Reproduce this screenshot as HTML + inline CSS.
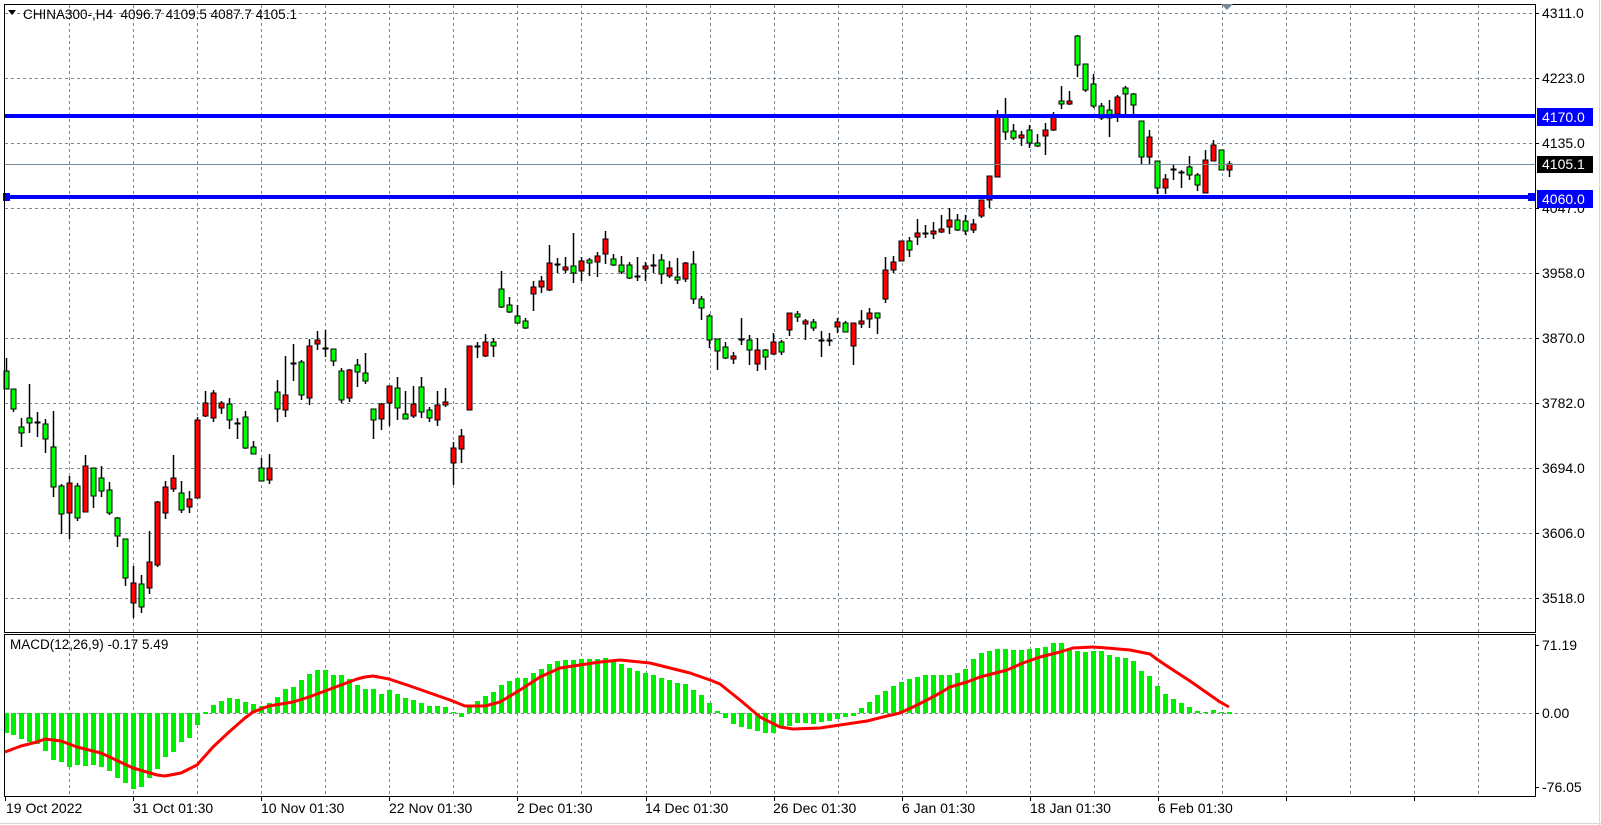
<!DOCTYPE html>
<html><head><meta charset="utf-8"><style>
html,body{margin:0;padding:0;background:#fff;}
svg{display:block;font-family:"Liberation Sans","DejaVu Sans",sans-serif;}
</style></head><body>
<svg id="s" width="1601" height="825" xmlns="http://www.w3.org/2000/svg">
<rect width="1601" height="825" fill="#fff"/>
<g id="grid" stroke="#778899" stroke-width="1" stroke-dasharray="3,3" fill="none"></g>
<g id="cd"></g>
<g id="mac"></g>
<line x1="4" y1="164.5" x2="1535" y2="164.5" stroke="#778899" stroke-width="1"/>
<line x1="4" y1="116" x2="1535" y2="116" stroke="#0000ff" stroke-width="4"/>
<line x1="4" y1="197" x2="1535" y2="197" stroke="#0000ff" stroke-width="4"/>
<rect x="3" y="193" width="7" height="8" fill="#0000ff"/>
<rect x="1528" y="193" width="8" height="8" fill="#0000ff"/>
<g stroke="#000" stroke-width="1" fill="none">
<rect x="4.5" y="4.5" width="1531" height="628"/>
<rect x="4.5" y="634.5" width="1531" height="162"/>
</g>
<line x1="0" y1="823.5" x2="1601" y2="823.5" stroke="#d8d8d8"/>
<line x1="1599.5" y1="0" x2="1599.5" y2="825" stroke="#d8d8d8"/>
<polygon points="1221,4 1233,4 1227,10" fill="#778899"/>
<g font-size="14" fill="#000">
<text x="1542" y="18">4311.0</text>
<text x="1542" y="83">4223.0</text>
<text x="1542" y="148">4135.0</text>
<text x="1542" y="213">4047.0</text>
<text x="1542" y="278">3958.0</text>
<text x="1542" y="343">3870.0</text>
<text x="1542" y="408">3782.0</text>
<text x="1542" y="473">3694.0</text>
<text x="1542" y="538">3606.0</text>
<text x="1542" y="603">3518.0</text>
<text x="1542" y="650">71.19</text>
<text x="1542" y="718">0.00</text>
<text x="1542" y="792">-76.05</text>
</g>
<rect x="1537" y="108" width="56" height="18" fill="#0000ff"/>
<text x="1542" y="122" font-size="14" fill="#fff">4170.0</text>
<rect x="1537" y="156" width="56" height="17" fill="#000"/>
<text x="1542" y="169" font-size="14" fill="#fff">4105.1</text>
<rect x="1537" y="190" width="56" height="18" fill="#0000ff"/>
<text x="1542" y="204" font-size="14" fill="#fff">4060.0</text>
<g font-size="14" fill="#000">
<text x="6" y="813">19 Oct 2022</text>
<text x="133" y="813">31 Oct 01:30</text>
<text x="261" y="813">10 Nov 01:30</text>
<text x="389" y="813">22 Nov 01:30</text>
<text x="517" y="813">2 Dec 01:30</text>
<text x="645" y="813">14 Dec 01:30</text>
<text x="773" y="813">26 Dec 01:30</text>
<text x="902" y="813">6 Jan 01:30</text>
<text x="1030" y="813">18 Jan 01:30</text>
<text x="1158" y="813">6 Feb 01:30</text>
</g>
<polygon points="8,10 16,10 12,15" fill="#000"/>
<text x="23" y="19" font-size="13.5" fill="#000" xml:space="preserve">CHINA300-,H4  4096.7 4109.5 4087.7 4105.1</text>
<text x="10" y="649" font-size="13.5" fill="#000">MACD(12,26,9) -0.17 5.49</text>
</svg>
<script>
var NS="http://www.w3.org/2000/svg",s=document.getElementById('s');
function el(p,n,a){var e=document.createElementNS(NS,n);for(var k in a)e.setAttribute(k,a[k]);p.appendChild(e);return e;}
var g=document.getElementById('grid');
var hy=[13,78,143,208,273,338,403,468,533,598];
hy.forEach(function(y){el(g,'line',{x1:5,y1:y+.5,x2:1535,y2:y+.5});el(s,'line',{x1:1535,y1:y+.5,x2:1539,y2:y+.5,stroke:'#000'});});
el(g,'line',{x1:5,y1:713.5,x2:1535,y2:713.5});
[645,713,787].forEach(function(y){el(s,'line',{x1:1535,y1:y+.5,x2:1539,y2:y+.5,stroke:'#000'});});
for(var k=0;k<=22;k++){var x=Math.round(69+64.06*k)+.5;el(g,'line',{x1:x,y1:5,x2:x,y2:632});el(g,'line',{x1:x,y1:635,x2:x,y2:796});
 if(k%2==1)el(s,'line',{x1:x,y1:796,x2:x,y2:801,stroke:'#000'});}
el(s,'line',{x1:5.5,y1:796,x2:5.5,y2:801,stroke:'#000'});
var C=[[6,358,389,371,389,'g'],[13,389,412,389,409,'g'],[21,418,447,427,433,'g'],[29,384,433,418,423,'g'],[37,412,437,422,422,'k'],[45,419,453,424,439,'g'],[53,411,497,447,487,'g'],[61,484,534,486,514,'g'],[69,476,539,483,513,'r'],[77,483,521,486,518,'g'],[85,455,512,466,512,'r'],[93,468,508,468,496,'g'],[101,466,497,478,491,'g'],[109,482,515,490,513,'g'],[117,517,547,518,536,'g'],[125,539,586,539,578,'g'],[133,566,618,583,603,'r'],[141,575,613,584,607,'g'],[149,531,594,562,588,'r'],[157,501,567,502,565,'r'],[165,481,519,487,513,'r'],[173,455,492,478,489,'r'],[181,481,513,493,510,'g'],[189,491,513,499,507,'r'],[197,417,498,420,498,'r'],[205,391,417,403,416,'r'],[213,390,422,393,418,'r'],[221,401,414,403,408,'r'],[229,398,429,404,420,'g'],[237,418,439,423,423,'k'],[245,411,449,417,448,'g'],[253,441,454,447,454,'g'],[261,458,481,468,481,'g'],[269,454,484,468,480,'r'],[277,380,422,392,409,'g'],[285,356,417,395,410,'r'],[293,344,381,363,363,'k'],[301,360,400,362,395,'g'],[309,339,405,346,398,'r'],[317,331,350,340,344,'r'],
[325,330,357,348,348,'k'],[333,349,366,349,361,'g'],[341,368,403,371,400,'g'],[349,369,402,370,398,'r'],[357,359,387,365,372,'g'],[365,353,384,373,381,'g'],[373,409,439,409,420,'g'],[381,403,430,404,419,'r'],[389,386,426,386,403,'r'],[397,377,420,388,408,'g'],[405,391,419,414,419,'g'],[413,386,418,404,416,'r'],[421,377,418,387,412,'g'],[429,407,422,410,418,'g'],[437,391,426,405,420,'r'],[445,388,407,402,405,'r'],[453,442,485,448,463,'r'],[461,429,463,436,449,'r'],[469,346,410,346,410,'r'],[477,342,358,346,346,'k'],[485,334,357,342,356,'r'],[493,338,357,342,346,'g'],[501,271,308,289,307,'g'],[509,297,313,305,312,'g'],[517,305,324,316,323,'g'],[525,318,329,321,328,'g'],[533,281,311,287,294,'r'],[541,276,293,281,287,'r'],[549,245,291,263,290,'r'],[557,258,273,264,264,'k'],[565,257,273,267,269,'r'],[573,233,283,266,273,'g'],[581,257,281,261,271,'r'],[589,258,276,260,263,'g'],[597,252,277,256,262,'r'],[605,231,264,239,254,'r'],[613,254,266,259,265,'g'],[621,256,274,265,272,'g'],[629,262,279,265,278,'g'],[637,257,281,276,276,'k'],[645,262,281,266,268,'r'],[653,254,273,265,265,'k'],[661,254,284,260,274,'g'],[669,261,278,268,276,'r'],[677,258,284,277,279,'g'],[685,262,282,263,279,'r'],[693,251,304,264,299,'g'],[701,296,320,299,308,'g'],[709,314,348,316,340,'g'],[717,339,370,339,351,'g'],[725,342,359,347,358,'g'],[733,352,364,356,358,'r'],[741,318,345,339,339,'k'],[749,335,365,340,350,'g'],[757,338,371,350,364,'r'],[765,349,370,350,357,'g'],[773,333,355,342,354,'r'],[781,340,355,342,352,'g'],[789,313,336,313,330,'r'],[797,311,322,314,317,'g'],[805,319,340,321,324,'r'],[813,319,331,322,328,'g'],[821,331,357,340,340,'k'],[829,333,346,340,340,'k'],[837,318,333,322,327,'r'],[845,321,332,323,332,'g'],[853,323,365,323,346,'r'],[861,310,328,321,323,'r'],[869,308,328,313,319,'r'],[877,313,334,313,318,'g'],[885,257,303,270,299,'r'],[893,256,273,262,270,'r'],[901,241,261,241,261,'r'],[909,237,257,241,250,'g'],[917,219,245,233,237,'r'],[925,225,238,233,233,'k'],[933,222,239,231,233,'r'],
[941,215,233,229,231,'r'],[949,208,234,220,227,'r'],[957,214,231,220,230,'g'],[965,215,235,221,231,'g'],[973,219,233,224,230,'r'],[981,200,218,200,216,'r'],[989,176,208,176,200,'r'],[997,110,177,116,177,'r'],[1005,98,140,116,132,'g'],[1013,124,140,131,138,'g'],[1021,131,146,135,138,'r'],[1029,125,148,130,143,'g'],[1037,134,147,143,145,'g'],[1045,123,155,130,136,'r'],[1053,112,131,116,130,'r'],[1061,86,109,101,103,'g'],[1069,91,105,101,103,'r'],[1077,35,77,36,65,'g'],[1085,64,92,64,90,'g'],[1093,74,108,84,106,'g'],[1101,103,120,106,118,'g'],[1109,100,137,110,118,'g'],[1117,95,122,97,114,'r'],[1125,86,114,88,94,'g'],[1133,93,114,94,105,'g'],[1141,121,165,121,157,'g'],[1149,130,164,137,157,'r'],[1157,161,194,161,188,'g'],[1165,174,194,179,188,'r'],[1173,164,180,169,169,'k'],[1181,170,188,172,173,'k'],[1189,156,180,167,175,'g'],[1197,173,191,175,185,'g'],[1205,150,193,160,193,'r'],[1213,140,161,145,161,'r'],[1221,150,170,150,170,'g'],[1229,161,177,164,170,'r']];
var cd=document.getElementById('cd');
C.forEach(function(c){var x=c[0]+.5;el(cd,'line',{x1:x,y1:c[1],x2:x,y2:c[2],stroke:'#000','stroke-width':1.5});
 if(c[5]=='k'){el(cd,'line',{x1:x-3,y1:c[3]+.5,x2:x+3,y2:c[3]+.5,stroke:'#000','stroke-width':2});}
 else{var h=Math.max(c[4]-c[3],3);el(cd,'rect',{x:c[0]-2,y:c[3],width:5,height:h,fill:c[5]=='g'?'#00ff00':'#ff0000',stroke:'#000','stroke-width':1});}});
var H=[[6,733],[13,735],[21,739],[29,742],[37,744],[45,751],[53,760],[61,762],[69,767],[77,765],[85,766],[93,765],[101,767],[109,771],[117,778],[125,783],[133,789],[141,787],[149,778],[157,769],[165,757],[173,752],[181,742],[189,738],[197,725],[205,713],[213,705],[221,701],[229,698],[237,699],[245,702],[253,704],[261,706],[269,703],[277,697],[285,689],[293,687],[301,680],[309,674],[317,670],[325,670],[333,675],[341,675],[349,679],[357,685],[365,689],[373,689],[381,694],[389,690],[397,694],[405,698],[413,700],[421,703],[429,706],[437,706],[445,707],[453,712],[461,717],[469,707],[477,701],[485,696],[493,692],[501,685],[509,681],[517,678],[525,678],[533,673],[541,669],[549,664],[557,661],[565,660],[573,660],[581,659],[589,659],[597,659],[605,658],[613,661],[621,664],[629,668],[637,671],[645,673],[653,675],[661,678],[669,680],[677,683],[685,684],[693,690],[701,695],[709,703],[717,711],[725,718],[733,724],[741,727],[749,729],[757,731],[765,733],[773,733],[781,727],[789,726],[797,723],[805,723],[813,724],[821,722],[829,721],[837,719],[845,717],[853,716],[861,708],[869,702],[877,695],[885,691],[893,686],[901,682],[909,679],[917,677],[925,675],[933,675],[941,675],[949,675],[957,673],[965,669],[973,659],[981,653],[989,651],[997,649],[1005,649],[1013,650],[1021,650],[1029,649],[1037,648],[1045,647],[1053,643],[1061,643],[1069,649],[1077,651],[1085,652],[1093,651],[1101,651],[1109,655],[1117,657],[1125,658],[1133,661],[1141,671],[1149,676],[1157,686],[1165,694],[1173,699],[1181,703],[1189,707],[1197,711],[1205,712],[1213,710],[1221,712],[1229,713]];
var m=document.getElementById('mac');
H.forEach(function(h){var y0=713,y=h[1];var t=Math.min(y,y0),b=Math.max(y,y0);if(b-t<1){t=y0-1;b=y0+1;}
 el(m,'rect',{x:h[0]-2,y:t,width:5,height:b-t,fill:'#00ee00'});});
var S=[[5,752],[21,746],[37,742],[45,739],[61,741],[77,747],[101,753],[133,768],[157,775],[165,776],[181,773],[197,765],[213,747],[229,732],[245,718],[253,712],[269,706],[293,702],[309,697],[325,691],[341,685],[357,679],[365,677],[373,676],[389,679],[410,686],[430,693],[450,700],[465,706],[485,706],[500,702],[520,690],[540,677],[560,668],[580,665],[600,662],[620,660],[630,661],[650,663],[670,668],[690,673],[710,680],[720,684],[740,700],[760,717],[780,727],[793,729],[820,728],[840,725],[867,721],[887,716],[900,713],[913,707],[927,700],[940,693],[950,687],[967,682],[980,677],[1007,670],[1023,663],[1040,657],[1060,652],[1073,648],[1093,647],[1107,648],[1130,650],[1150,654],[1158,660],[1170,668],[1190,681],[1200,688],[1210,695],[1220,702],[1229,707]];
el(m,'polyline',{points:S.map(function(p){return p.join(',')}).join(' '),fill:'none',stroke:'#ff0000','stroke-width':3,'stroke-linejoin':'round'});
</script>
</body></html>
